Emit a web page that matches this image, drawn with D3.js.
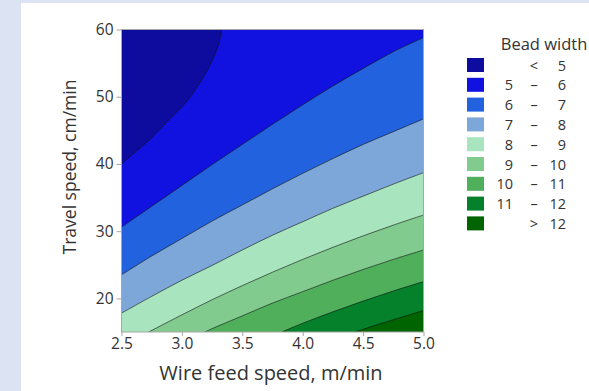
<!DOCTYPE html>
<html>
<head>
<meta charset="utf-8">
<script src="https://cdn.jsdelivr.net/npm/d3@7"></script>
<style>
  html, body { margin: 0; padding: 0; background: #dce4f3; }
  svg { display: block; }
  text { font-family: "Open Sans", "Noto Sans", sans-serif; fill: #333; }
</style>
</head>
<body>
<svg id="chart" width="589" height="391"></svg>
<script>
// ---- data ----
const xTicks = [2.5, 3.0, 3.5, 4.0, 4.5, 5.0];
const yTicks = [20, 30, 40, 50, 60];
const xDomain = [2.5, 5.0];
const yDomain = [15, 60];
const levels = [5, 6, 7, 8, 9, 10, 11, 12];
const legendLabels = [["", "<", "5"], ["5", "–", "6"], ["6", "–", "7"], ["7", "–", "8"], ["8", "–", "9"],
                      ["9", "–", "10"], ["10", "–", "11"], ["11", "–", "12"], ["", ">", "12"]];
const bandColors = ["#0e0c9e", "#1111e0", "#2362de", "#7ca7d8", "#a8e5be", "#82cb8e", "#4faf5b", "#04812a", "#006400"];

// contour lines: [wire feed speed, travel speed]
const line5  = [[2.5,40.0],[2.61,41.7],[2.75,43.9],[2.91,46.9],[3.04,49.3],[3.16,52.4],[3.24,55.0],[3.3,57.6],[3.33,60]];
const line6  = [[2.5,30.6],[2.75,33.7],[3.0,36.8],[3.25,39.9],[3.5,42.9],[3.75,45.9],[4.0,48.8],[4.25,51.6],[4.5,54.2],[4.75,56.7],[5.0,58.8]];
const line7  = [[2.5,23.5],[2.75,26.3],[3.0,28.9],[3.25,31.5],[3.5,33.9],[3.75,36.3],[4.0,38.6],[4.25,40.8],[4.5,42.9],[4.75,44.8],[5.0,46.7]];
const line8  = [[2.5,17.8],[2.75,20.3],[3.0,22.7],[3.25,24.9],[3.5,27.2],[3.75,29.4],[4.0,31.4],[4.25,33.4],[4.5,35.2],[4.75,37.0],[5.0,38.7]];
const line9  = [[2.725,15],[3.0,17.55],[3.25,19.8],[3.5,21.9],[3.75,23.9],[4.0,25.8],[4.25,27.6],[4.5,29.3],[4.75,30.9],[5.0,32.4]];
const line10 = [[3.19,15],[3.25,15.5],[3.5,17.4],[3.75,19.3],[4.0,21.0],[4.25,22.7],[4.5,24.3],[4.75,25.8],[5.0,27.2]];
const line11 = [[3.826,15],[4.0,16.3],[4.25,18.0],[4.5,19.6],[4.75,21.1],[5.0,22.5]];
const line12 = [[4.435,15],[4.6,16.0],[4.8,17.1],[5.0,18.2]];
const contourLines = [line5, line6, line7, line8, line9, line10, line11, line12];

// ---- drawing ----
const svg = d3.select("#chart");
svg.append("rect").attr("x", 21).attr("y", 3).attr("width", 568).attr("height", 388).attr("fill", "#ffffff");

const x = d3.scaleLinear().domain(xDomain).range([121.5, 423.5]);
const y = d3.scaleLinear().domain(yDomain).range([332, 29.5]);

const clipId = "plotclip";
svg.append("clipPath").attr("id", clipId).append("rect")
  .attr("x", x(xDomain[0])).attr("y", y(yDomain[1]))
  .attr("width", x(xDomain[1]) - x(xDomain[0])).attr("height", y(yDomain[0]) - y(yDomain[1]));

const plot = svg.append("g").attr("clip-path", `url(#${clipId})`);

// base: highest band
plot.append("rect")
  .attr("x", x(xDomain[0])).attr("y", y(yDomain[1]))
  .attr("width", x(xDomain[1]) - x(xDomain[0])).attr("height", y(yDomain[0]) - y(yDomain[1]))
  .attr("fill", bandColors[bandColors.length - 1]);

const curve = d3.line().x(d => x(d[0])).y(d => y(d[1])).curve(d3.curveCatmullRom.alpha(0.5));
const eps = 1e-6;
function regionPath(pts) {
  const start = pts[0], end = pts[pts.length - 1];
  const corners = [];
  if (Math.abs(end[0] - xDomain[1]) < eps) corners.push([xDomain[1], yDomain[1]]);
  corners.push([xDomain[0], yDomain[1]]);
  if (Math.abs(start[1] - yDomain[0]) < eps) corners.push([xDomain[0], yDomain[0]]);
  return curve(pts) + corners.map(c => `L${x(c[0])},${y(c[1])}`).join("") + "Z";
}

// paint from highest level down to lowest: the side of each level line toward the top-left gets the lower band colour
for (let i = levels.length - 1; i >= 0; i--) {
  plot.append("path").attr("d", regionPath(contourLines[i])).attr("fill", bandColors[i]).attr("stroke", "none");
}
// contour lines
contourLines.forEach(pts => {
  plot.append("path").attr("d", curve(pts)).attr("fill", "none")
    .attr("stroke", "#111").attr("stroke-width", 0.7).attr("stroke-opacity", 0.85);
});

// frame
svg.append("rect")
  .attr("x", x(xDomain[0])).attr("y", y(yDomain[1]))
  .attr("width", x(xDomain[1]) - x(xDomain[0])).attr("height", y(yDomain[0]) - y(yDomain[1]))
  .attr("fill", "none").attr("stroke", "#a6a6a6").attr("stroke-width", 1);

// axes
const xAxis = d3.axisBottom(x).tickValues(xTicks).tickFormat(d3.format(".1f")).tickSizeOuter(0).tickSize(4).tickPadding(2);
const yAxis = d3.axisLeft(y).tickValues(yTicks).tickFormat(d3.format("d")).tickSizeOuter(0).tickSize(5).tickPadding(3);
const gx = svg.append("g").attr("transform", `translate(0,${y(yDomain[0])})`).call(xAxis);
const gy = svg.append("g").attr("transform", `translate(${x(xDomain[0])},0)`).call(yAxis);
[gx, gy].forEach(g => {
  g.select(".domain").remove();
  g.selectAll(".tick line").attr("stroke", "#a6a6a6");
  g.selectAll(".tick text").style("font-family", '"Open Sans", sans-serif').style("font-size", "15.5px").attr("fill", "#303030");
});

svg.append("text").attr("x", 271).attr("y", 380).attr("text-anchor", "middle")
  .style("font-size", "20px").attr("fill", "#404040").text("Wire feed speed, m/min");
svg.append("text").attr("transform", "translate(76,167) rotate(-90)").attr("text-anchor", "middle")
  .style("font-size", "17.5px").attr("fill", "#404040").text("Travel speed, cm/min");

// legend
const lg = svg.append("g");
lg.append("text").attr("x", 544).attr("y", 50).attr("text-anchor", "middle")
  .style("font-size", "16.5px").attr("fill", "#333").text("Bead width");
legendLabels.forEach((lab, i) => {
  const cy = 65 + i * 19.8;
  lg.append("rect").attr("x", 467).attr("y", cy - 7).attr("width", 17).attr("height", 14).attr("fill", bandColors[i]);
  const ty = cy + 5.5;
  if (lab[0]) lg.append("text").attr("x", 513).attr("y", ty).attr("text-anchor", "end").style("font-size", "14.5px").text(lab[0]);
  lg.append("text").attr("x", 534).attr("y", ty).attr("text-anchor", "middle").style("font-size", "14.5px").text(lab[1]);
  lg.append("text").attr("x", 566).attr("y", ty).attr("text-anchor", "end").style("font-size", "14.5px").text(lab[2]);
});
</script>
</body>
</html>
